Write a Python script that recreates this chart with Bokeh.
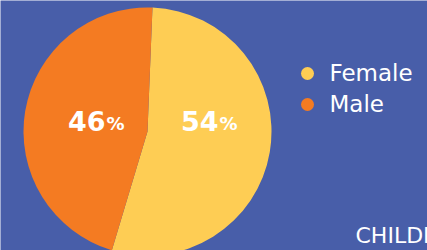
import math
from bokeh.plotting import figure
from bokeh.models import Range1d
from bokeh.core.properties import value
from bokeh.embed import file_html
from bokeh.resources import INLINE

# ---- data ----
categories = ["Female", "Male"]
shares = [54, 46]
colors = ["#fecd54", "#f47b22"]
footer_text = "CHILDREN"

BG = "#485ea9"
W, H = 427, 250
FONT = "DejaVu Sans"

p = figure(width=W, height=H, output_backend="svg", toolbar_location=None,
           x_range=Range1d(0, W), y_range=Range1d(0, H), min_border=0)
p.axis.visible = False
p.grid.visible = False
p.outline_line_color = None
p.background_fill_color = BG
p.border_fill_color = BG

# pie
cx, cy, r = 147, 119, 124
start = 87.7  # degrees, counter-clockwise from +x
total = sum(shares)
a = start
for cat, s, c in zip(categories, shares, colors):
    sweep = 360.0 * s / total
    p.wedge(x=cx, y=cy, radius=r, start_angle=math.radians(a),
            end_angle=math.radians(a - sweep),
            direction="clock", fill_color=c, line_color=None)
    a -= sweep

# percentage labels: number right-aligned at split, % left-aligned
split_x = [218, 105]
num_y = 130
pct_y = 127
for s, sx in zip(shares, split_x):
    p.text(x=[sx], y=[num_y], text=[str(s)], text_align="right",
           text_baseline="middle", text_color="white",
           text_font=value(FONT), text_font_style="bold", text_font_size="27px")
    p.text(x=[sx + 1], y=[pct_y], text=["%"], text_align="left",
           text_baseline="middle", text_color="white",
           text_font=value(FONT), text_font_style="bold", text_font_size="18px")

# legend
leg_x, leg_y0, leg_dy = 307, 177, 31
for i, (cat, c) in enumerate(zip(categories, colors)):
    yy = leg_y0 - i * leg_dy
    p.scatter(x=[leg_x], y=[yy], size=13, marker="circle", fill_color=c, line_color=None)
    p.text(x=[leg_x + 22], y=[yy + 1], text=[cat], text_align="left",
           text_baseline="middle", text_color="white",
           text_font=value(FONT), text_font_size="23px")

# footer text (cut off at the right edge)
p.text(x=[355], y=[15.5], text=[footer_text], text_align="left",
       text_baseline="middle", text_color="white",
       text_font=value(FONT), text_font_size="22px")

open("out.html", "w").write(file_html(p, INLINE))
